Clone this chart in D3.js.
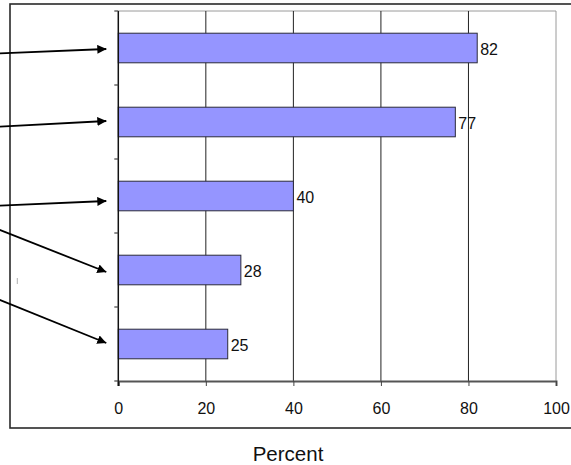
<!DOCTYPE html>
<html>
<head>
<meta charset="utf-8">
<script src="https://cdn.jsdelivr.net/npm/d3@7"></script>
<style>
  html, body { margin: 0; padding: 0; background: #fff; }
  svg { display: block; }
  text { font-family: "Liberation Sans", Arial, sans-serif; fill: #111; }
</style>
</head>
<body>
<svg id="chart" width="571" height="465"></svg>
<script>
// Response categories (top to bottom) and their percentages
const categories = ["Item 1", "Item 2", "Item 3", "Item 4", "Item 5"];
const percents = [82, 77, 40, 28, 25];
const xTicks = [0, 20, 40, 60, 80, 100];
const xTitle = "Percent";

const svg = d3.select("#chart");

// Plot area
const plot = { left: 118.3, right: 556, top: 11, bottom: 381 };

const x = d3.scaleLinear().domain([0, 100]).range([plot.left, plot.right]);
const y = d3.scaleBand().domain(categories).range([plot.top, plot.bottom]).paddingInner(0.6).paddingOuter(0.3);

// Outer frame (right side runs past the visible area)
svg.append("rect")
  .attr("x", 10).attr("y", 4)
  .attr("width", 620).attr("height", 424)
  .attr("fill", "none").attr("stroke", "#2a2a2a").attr("stroke-width", 1.6);

// Plot border (top) in light gray
svg.append("line")
  .attr("x1", plot.left).attr("x2", plot.right).attr("y1", plot.top).attr("y2", plot.top)
  .attr("stroke", "#9a9a9a").attr("stroke-width", 1);

// Vertical gridlines
svg.append("g").selectAll("line")
  .data(xTicks.filter(d => d > 0))
  .join("line")
  .attr("x1", d => x(d)).attr("x2", d => x(d))
  .attr("y1", plot.top).attr("y2", plot.bottom)
  .attr("stroke", d => d === 100 ? "#9a9a9a" : "#222")
  .attr("stroke-width", 1);

// Bars
svg.append("g").selectAll("rect")
  .data(percents)
  .join("rect")
  .attr("x", x(0))
  .attr("y", (d, i) => y(categories[i]))
  .attr("width", d => x(d) - x(0))
  .attr("height", y.bandwidth())
  .attr("fill", "#9595ff")
  .attr("stroke", "#2b2b3a")
  .attr("stroke-width", 1);

// Value labels
svg.append("g").selectAll("text")
  .data(percents)
  .join("text")
  .attr("x", d => x(d) + 3)
  .attr("y", (d, i) => y(categories[i]) + y.bandwidth() / 2 + 6.5)
  .attr("font-size", 16)
  .text(d => d);

// X axis
const xAxis = d3.axisBottom(x).tickValues(xTicks).tickSize(5).tickPadding(17).tickFormat(d3.format("d"));
const gx = svg.append("g").attr("transform", `translate(0,${plot.bottom})`).call(xAxis);
gx.select(".domain").attr("stroke", "#555").attr("stroke-width", 2);
gx.selectAll(".tick line").attr("stroke", "#444");
gx.selectAll(".tick text").attr("font-size", 16).attr("font-family", "Liberation Sans, Arial, sans-serif").attr("fill", "#111");

// Y axis: line with small ticks at category boundaries
const yAxisG = svg.append("g");
yAxisG.append("line")
  .attr("x1", plot.left).attr("x2", plot.left).attr("y1", plot.top).attr("y2", plot.bottom + 5)
  .attr("stroke", "#111").attr("stroke-width", 1.5);
const bounds = d3.range(categories.length + 1).map(i => plot.top + i * y.step());
yAxisG.selectAll("line.tk")
  .data(bounds)
  .join("line").attr("class", "tk")
  .attr("x1", plot.left - 4).attr("x2", plot.left)
  .attr("y1", d => d).attr("y2", d => d)
  .attr("stroke", "#444").attr("stroke-width", 1.2);

// Axis title
svg.append("text")
  .attr("x", 288).attr("y", 461)
  .attr("text-anchor", "middle")
  .attr("font-size", 20.5)
  .text(xTitle);

// Callout arrows coming in from the left toward each bar
const defs = svg.append("defs");
defs.append("marker")
  .attr("id", "arrow")
  .attr("viewBox", "0 0 10 10")
  .attr("refX", 10).attr("refY", 5)
  .attr("markerWidth", 9).attr("markerHeight", 9)
  .attr("markerUnits", "userSpaceOnUse")
  .attr("orient", "auto")
  .append("path").attr("d", "M0,0 L10,5 L0,10 Z").attr("fill", "#000");

const arrowOrigins = [53.3, 126.7, 205.7, 230, 300];
const arrowTipOffsets = [1, -1, 5, 2, -1];
const tipX = x(0) - 12;
const tipY = (d, i) => y(d) + y.bandwidth() / 2 + arrowTipOffsets[i];
svg.append("g").selectAll("line")
  .data(categories)
  .join("line")
  .attr("x1", -40)
  .attr("y1", (d, i) => {
    const y0 = arrowOrigins[i];
    return y0 + (y0 - tipY(d, i)) * 40 / tipX;
  })
  .attr("x2", tipX)
  .attr("y2", tipY)
  .attr("stroke", "#000").attr("stroke-width", 1.8)
  .attr("marker-end", "url(#arrow)");

// Small stray mark near the frame
svg.append("line")
  .attr("x1", 17.3).attr("x2", 17.3).attr("y1", 278).attr("y2", 284)
  .attr("stroke", "#b0b0b0").attr("stroke-width", 1);
</script>
</body>
</html>
